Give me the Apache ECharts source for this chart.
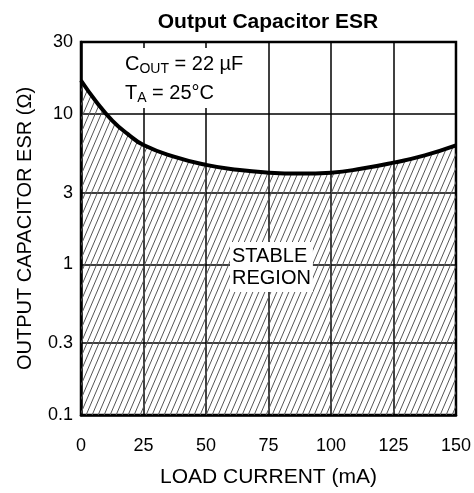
<!DOCTYPE html>
<html>
<head>
<meta charset="utf-8">
<script src="https://cdn.jsdelivr.net/npm/echarts@6/dist/echarts.min.js"></script>
<style>
  html, body { margin: 0; padding: 0; background: #fff; }
  #chart { width: 474px; height: 493px; }
</style>
</head>
<body>
<div id="chart"></div>
<script>
// load current (mA) and the upper ESR limit (ohm)
var loadCurrent = [0, 6.25, 12.5, 18.75, 25, 37.5, 50, 62.5, 75, 87.5, 100, 112.5, 125, 137.5, 150];
var esrLimit = [16.65, 11.95, 9.02, 7.34, 6.21, 5.18, 4.58, 4.25, 4.07, 4.01, 4.07, 4.33, 4.74, 5.3, 6.17];
var yTicks = [0.1, 0.3, 1, 3, 10, 30];

var FONT = "'Liberation Sans', Arial, sans-serif";

// hatch pattern for the stable region
var hatch = document.createElement("canvas");
hatch.width = 6;
hatch.height = 14;
var ctx = hatch.getContext("2d");
ctx.strokeStyle = "#555";
ctx.lineWidth = 1;
[-6, 0, 6].forEach(function (dx) {
  ctx.beginPath();
  ctx.moveTo(dx, 14);
  ctx.lineTo(dx + 6, 0);
  ctx.stroke();
});

var points = loadCurrent.map(function (x, i) {
  return [x, esrLimit[i]];
});

var myChart = echarts.init(document.getElementById("chart"));
myChart.setOption({
  animation: false,
  title: {
    text: "Output Capacitor ESR",
    left: 263,
    textAlign: "center",
    top: 7,
    textStyle: { fontFamily: FONT, fontSize: 21, fontWeight: "bold", color: "#000" },
  },
  grid: {
    left: 81,
    right: 18,
    top: 42,
    bottom: 76,
    show: true,
    borderColor: "#000",
    borderWidth: 2.5,
    backgroundColor: "transparent",
  },
  xAxis: {
    type: "value",
    min: 0,
    max: 150,
    interval: 25,
    name: "LOAD CURRENT (mA)",
    nameLocation: "middle",
    nameGap: 52,
    nameTextStyle: { fontFamily: FONT, fontSize: 21, color: "#000" },
    axisLine: { lineStyle: { color: "#000", width: 2.5 } },
    axisTick: { show: false },
    axisLabel: { fontFamily: FONT, fontSize: 18, color: "#000", margin: 22 },
    splitLine: { lineStyle: { color: "#000", width: 1.5 } },
  },
  yAxis: {
    type: "log",
    logBase: 10,
    min: 0.1,
    max: 30,
    name: "OUTPUT CAPACITOR ESR (Ω)",
    nameLocation: "middle",
    nameGap: 46,
    nameTextStyle: { fontFamily: FONT, fontSize: 20, color: "#000" },
    axisLine: { lineStyle: { color: "#000", width: 2.5 } },
    axisTick: { show: false, customValues: yTicks },
    axisLabel: {
      customValues: yTicks,
      fontFamily: FONT,
      fontSize: 18,
      color: "#000",
      margin: 8,
    },
    splitLine: { lineStyle: { color: "#000", width: 1.5 } },
  },
  series: [
    {
      type: "line",
      data: points,
      smooth: 0.5,
      symbol: "none",
      lineStyle: { color: "#000", width: 4 },
      areaStyle: { color: { image: hatch, repeat: "repeat" }, opacity: 1, origin: "start" },
      z: 3,
    },
  ],
  graphic: [
    {
      type: "text",
      left: 115,
      top: 48,
      z: 10,
      style: {
        rich: {
          a: { fontFamily: FONT, fontSize: 20, color: "#000", lineHeight: 29 },
          s: { fontFamily: FONT, fontSize: 14, color: "#000", lineHeight: 29, padding: [10, 0, 0, 0] },
        },
        text: "{a|C}{s|OUT}{a| = 22 µF}\n{a|T}{s|A}{a| = 25°C}",
        backgroundColor: "#fff",
        padding: [2, 8, 0, 10],
      },
    },
    {
      type: "text",
      left: 230,
      top: 242,
      z: 10,
      style: {
        text: "STABLE\nREGION",
        fontFamily: FONT,
        fontSize: 20,
        lineHeight: 22,
        align: "center",
        fill: "#000",
        backgroundColor: "#fff",
        padding: [3, 2, 3, 2],
      },
    },
  ],
});
</script>
</body>
</html>
